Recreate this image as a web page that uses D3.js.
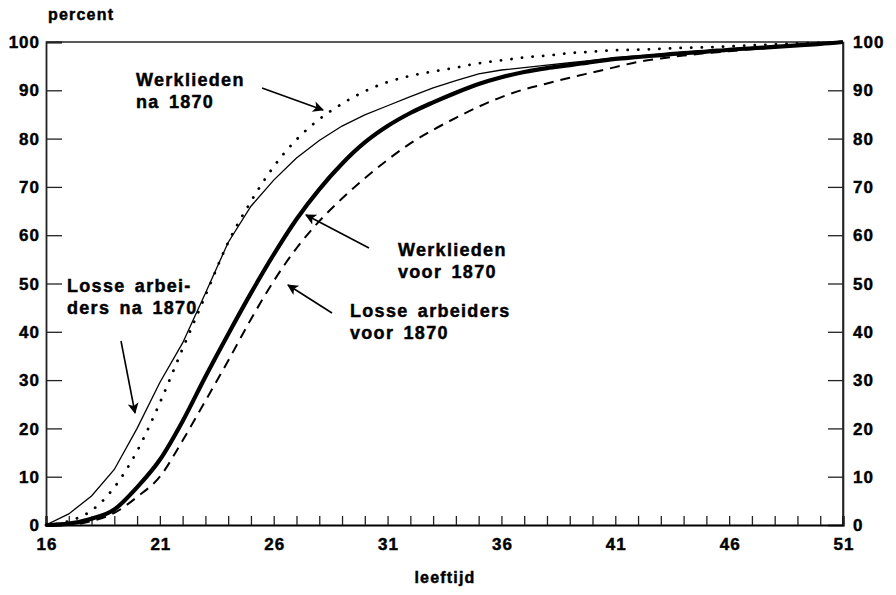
<!DOCTYPE html>
<html><head><meta charset="utf-8">
<script src="https://cdn.jsdelivr.net/npm/d3@7"></script>
<style>
body{margin:0;background:#fff;}
text{font-family:"Liberation Sans",Arial,sans-serif;font-weight:bold;fill:#000;stroke:#000;stroke-width:0.45px;}
</style></head>
<body><svg id="c" width="896" height="595"></svg>
<script>
const ages = d3.range(16, 52);
const losseNa1870 = [0,2.3,6,11.5,20,29.5,37.7,48,58.5,66,71.4,76,79.6,82.6,84.9,86.8,88.7,90.5,92,93.4,94.2,94.7,95.2,95.7,96.2,96.7,97.1,97.5,97.9,98.2,98.5,98.8,99.1,99.4,99.7,100];
const werkNa1870 = [0,0.8,3,7.8,15.3,25.3,36.5,47.5,58.5,67,74.2,79.8,84,87.2,89.8,91.7,93,93.9,94.7,95.6,96.2,96.8,97.2,97.7,98,98.3,98.4,98.6,98.8,98.9,99.1,99.3,99.5,99.7,99.85,100];
const werkVoor1870 = [0,0.3,1.3,3.2,7.8,13.5,21.5,30.7,39.5,48,56,63.3,69.5,74.8,79.2,82.6,85.3,87.5,89.5,91.3,92.7,93.8,94.6,95.2,95.9,96.5,96.9,97.3,97.7,98,98.4,98.7,99,99.3,99.6,100];
const losseVoor1870 = [0,0,0.8,2.5,5.8,10,17.5,25.7,34,42.6,50.5,57.3,62.9,67.6,71.8,75.6,79,81.8,84.3,86.6,88.6,90.2,91.4,92.6,93.7,94.8,95.9,96.6,97.2,97.7,98.1,98.5,98.9,99.3,99.6,100];
const xTicks = [16,21,26,31,36,41,46,51];
const yTicks = [0,10,20,30,40,50,60,70,80,90,100];

const svg = d3.select("#c");
const L=46,R=843,T=42,B=525;
const x = d3.scaleLinear().domain([16,51]).range([L,R]);
const y = d3.scaleLinear().domain([0,100]).range([B,T]);

const defs = svg.append("defs");
defs.append("marker").attr("id","ah").attr("viewBox","0 0 10 10").attr("refX",9).attr("refY",5)
  .attr("markerWidth",14).attr("markerHeight",11).attr("markerUnits","userSpaceOnUse").attr("orient","auto")
  .append("path").attr("d","M0,0L10,5L0,10L2.5,5Z").attr("fill","#000");

svg.append("line").attr("x1",L).attr("x2",R).attr("y1",T).attr("y2",T).attr("stroke","#222").attr("stroke-width",1.6);
svg.append("line").attr("x1",R).attr("x2",R).attr("y1",T).attr("y2",B).attr("stroke","#222").attr("stroke-width",1.6);

const ay = svg.append("g").attr("transform",`translate(${L},0)`)
  .call(d3.axisRight(y).tickValues(yTicks).tickSize(16).tickFormat(""));
ay.select(".domain").attr("stroke","#222").attr("stroke-width",1.8);
ay.selectAll(".tick line").attr("stroke","#222").attr("stroke-width",1.3);
const ay2 = svg.append("g").attr("transform",`translate(${R},0)`)
  .call(d3.axisLeft(y).tickValues(yTicks).tickSize(15).tickFormat(""));
ay2.select(".domain").attr("stroke","#222").attr("stroke-width",1.6);
ay2.selectAll(".tick line").attr("stroke","#222").attr("stroke-width",1.3);
const ax = svg.append("g").attr("transform",`translate(0,${B})`)
  .call(d3.axisTop(x).tickValues(ages).tickSize(9).tickFormat(""));
ax.select(".domain").attr("stroke","#000").attr("stroke-width",2.2);
ax.selectAll(".tick line").attr("stroke","#222").attr("stroke-width",1.3);

const fs = 17, ls = "1px";
svg.selectAll(".yl").data(yTicks).enter().append("text")
  .attr("x",40).attr("y",d=>y(d)).attr("dy","0.36em").attr("text-anchor","end")
  .style("font-size",fs+"px").style("letter-spacing",ls).text(d=>d);
svg.selectAll(".yr").data(yTicks).enter().append("text")
  .attr("x",853).attr("y",d=>y(d)).attr("dy","0.36em").attr("text-anchor","start")
  .style("font-size",fs+"px").style("letter-spacing",ls).text(d=>d);
svg.selectAll(".xl").data(xTicks).enter().append("text")
  .attr("x",d=>x(d)+1).attr("y",550).attr("text-anchor","middle")
  .style("font-size",fs+"px").style("letter-spacing",ls).text(d=>d);
svg.append("text").attr("x",48).attr("y",20).style("font-size","16px").style("letter-spacing","1.2px").text("percent");
svg.append("text").attr("x",445).attr("y",583).attr("text-anchor","middle").style("font-size","16px").style("letter-spacing","1.2px").text("leeftijd");

const line = (vals, curve) => d3.line().curve(curve).x((d,i)=>x(ages[i])).y(d=>y(d))(vals);
svg.append("path").attr("d",line(losseVoor1870,d3.curveMonotoneX)).attr("fill","none").attr("stroke","#000").attr("stroke-width",2).attr("stroke-dasharray","10 7");
svg.append("path").attr("d",line(werkNa1870,d3.curveMonotoneX)).attr("fill","none").attr("stroke","#000").attr("stroke-width",2.8).attr("stroke-linecap","round").attr("stroke-dasharray","0.1 10.5");
svg.append("path").attr("d",line(losseNa1870,d3.curveLinear)).attr("fill","none").attr("stroke","#000").attr("stroke-width",1.3);
svg.append("path").attr("d",line(werkVoor1870,d3.curveMonotoneX)).attr("fill","none").attr("stroke","#000").attr("stroke-width",4.2).attr("stroke-linejoin","round");

const af = "18px", als = "1.3px";
function label(lines, x0, y0){
  const t = svg.append("text").attr("x",x0).attr("y",y0).style("font-size",af).style("letter-spacing",als).style("word-spacing","3px");
  lines.forEach((s,i)=>t.append("tspan").attr("x",x0).attr("dy",i?22:0).text(s));
}
function arrow(x1,y1,x2,y2){
  svg.append("line").attr("x1",x1).attr("y1",y1).attr("x2",x2).attr("y2",y2).attr("stroke","#000").attr("stroke-width",1.6).attr("marker-end","url(#ah)");
}
label(["Werklieden","na 1870"],136,86);
arrow(262,88,323,110);
label(["Werklieden","voor 1870"],398,256);
arrow(369,248,306,215);
label(["Losse arbeiders","voor 1870"],350,317);
arrow(332,313,288,285);
label(["Losse arbei-","ders na 1870"],67,292);
arrow(121,341,135,413);
</script></body></html>
